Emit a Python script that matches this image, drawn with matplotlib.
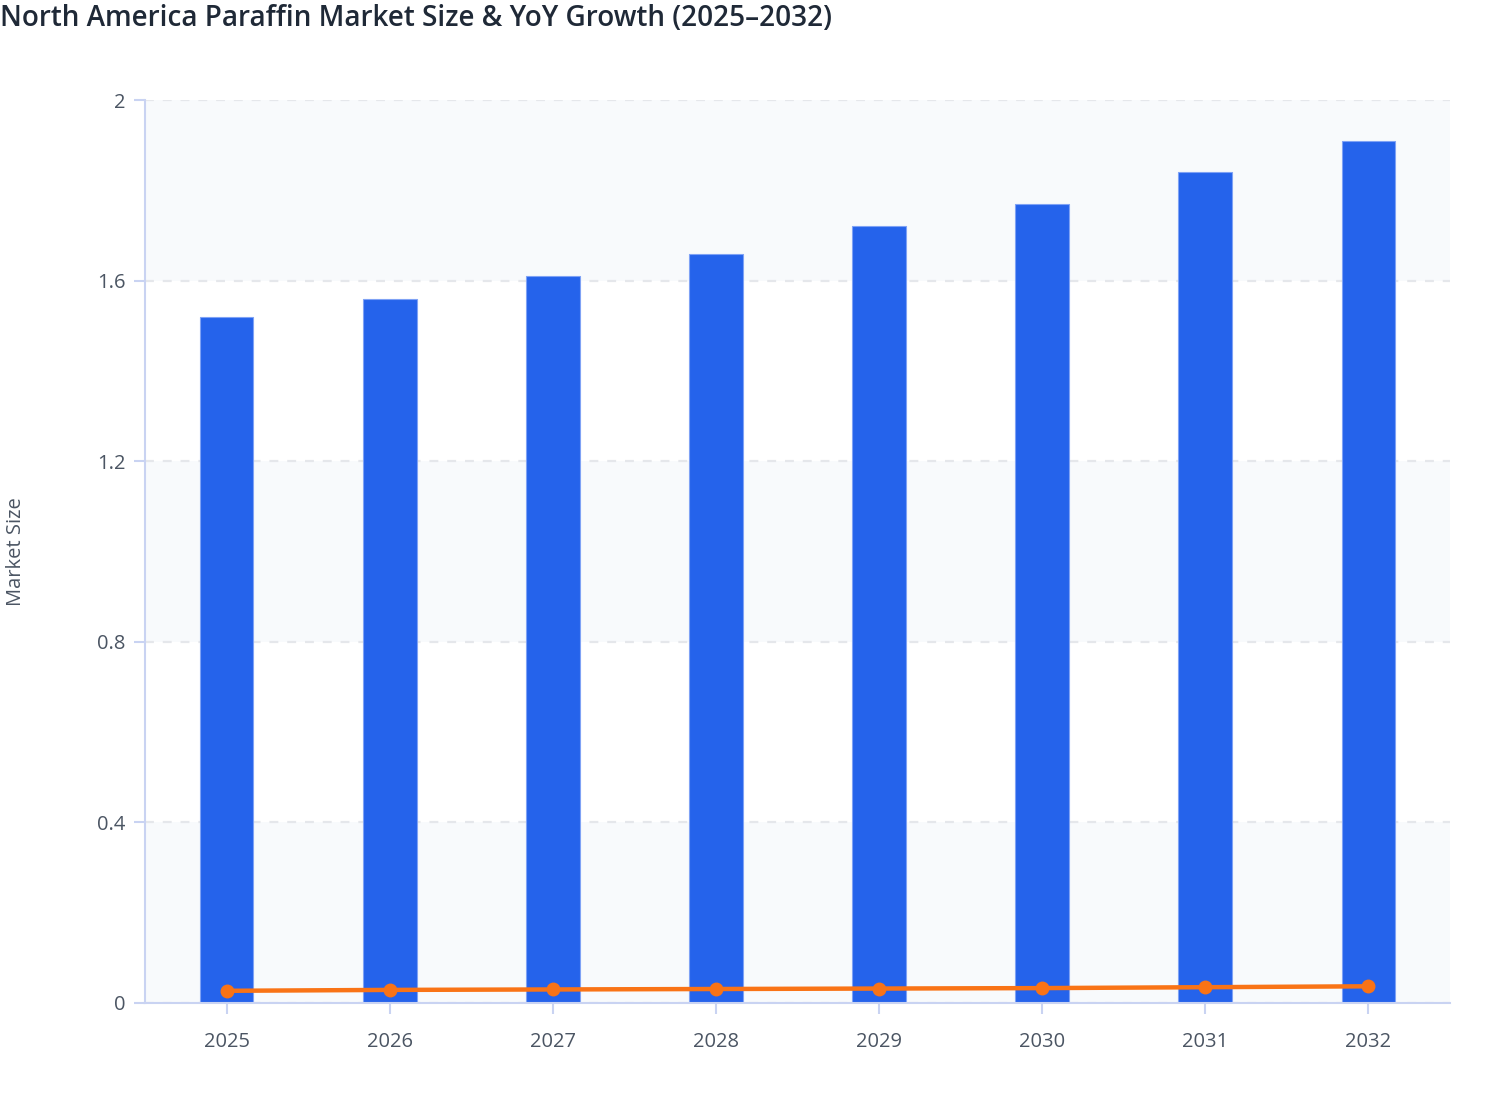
import matplotlib.pyplot as plt
from matplotlib.ticker import FuncFormatter

plt.rcParams['font.family'] = ['Open Sans', 'DejaVu Sans']

years = ['2025', '2026', '2027', '2028', '2029', '2030', '2031', '2032']
market_size = [1.52, 1.56, 1.61, 1.66, 1.72, 1.77, 1.84, 1.91]
yoy_growth = [0.027, 0.029, 0.030, 0.031, 0.032, 0.033, 0.035, 0.037]
y_ticks = [0, 0.4, 0.8, 1.2, 1.6, 2.0]

AXIS_COL = '#C9D3F2'
TEXT_COL = '#4B5563'

fig = plt.figure(figsize=(15.08, 11.2), dpi=100)
ax = fig.add_axes([145 / 1508, 117 / 1120, 1305 / 1508, 903 / 1120])
ax.set_facecolor('white')

# alternating bands
for i in range(0, len(y_ticks) - 1, 2):
    ax.axhspan(y_ticks[i], y_ticks[i + 1], color='#F8FAFC', zorder=0, lw=0)

x = list(range(len(years)))
ax.bar(x, market_size, width=0.33, color='#2563EB', edgecolor='#7FA2F5',
       linewidth=0.8, zorder=2)
ax.plot(x, yoy_growth, color='#F97316', lw=3.2, marker='o', markersize=9,
        zorder=3)

ax.set_xlim(-0.5, len(years) - 0.5)
ax.set_ylim(0, 2)
ax.set_xticks(x)
ax.set_xticklabels(years)
ax.set_yticks(y_ticks)
ax.yaxis.set_major_formatter(FuncFormatter(lambda v, p: '%g' % v))
ax.grid(axis='y', color='#E5E7EB', linestyle=(0, (4, 4)), lw=1.6, zorder=1)
ax.set_axisbelow(True)

for s in ['top', 'right']:
    ax.spines[s].set_visible(False)
for s in ['left', 'bottom']:
    ax.spines[s].set_color(AXIS_COL)
    ax.spines[s].set_linewidth(1.5)
    ax.spines[s].set_zorder(4)

ax.tick_params(axis='both', colors=AXIS_COL, labelcolor=TEXT_COL,
               labelsize=14.5, width=1.5, length=8, direction='out')
ax.tick_params(axis='x', pad=13)
ax.tick_params(axis='y', pad=6)

fig.text(16 / 1508, 1 - 552 / 1120, 'Market Size', rotation=90, fontsize=14.5,
         color=TEXT_COL, ha='center', va='center')
fig.text(0.0, 1 - 18 / 1120, 'North America Paraffin Market Size & YoY Growth (2025\u20132032)',
         fontsize=20.1, fontweight='semibold', color='#1F2937', ha='left', va='center')

fig.savefig('out.png', dpi=100)
